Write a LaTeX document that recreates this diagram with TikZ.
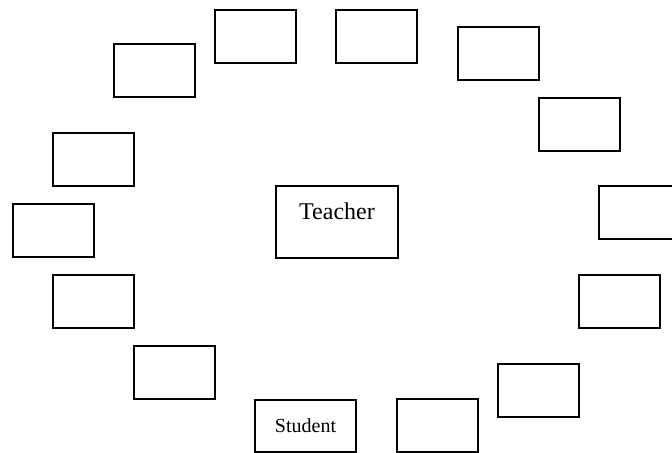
\documentclass[tikz,border=0pt]{standalone}
\usepackage{fontspec}
\setmainfont{Liberation Serif}
\usepackage{tikz}

\tikzset{
	seat/.style={draw, line width=1pt, anchor=north west, inner sep=0pt,
		minimum width=40.5pt, minimum height=26.5pt},
	desk/.style={draw, line width=1pt, anchor=north west, inner sep=0pt,
		minimum width=61pt, text height=17pt, text depth=19pt, font=\fontsize{12}{14}\selectfont}
}

\begin{document}
\begin{tikzpicture}[x=0.5pt, y=-0.5pt]
	\clip (0,0) rectangle (672,453);
	\node [desk] (teacher) at (275,185) {Teacher};
	\node [seat] (s1) at (113,43) {};
	\node [seat] (s2) at (214,9) {};
	\node [seat] (s3) at (335,9) {};
	\node [seat] (s4) at (457,26) {};
	\node [seat] (s5) at (538,97) {};
	\node [seat] (s6) at (52,132) {};
	\node [seat] (s7) at (12,203) {};
	\node [seat] (s8) at (598,185) {};
	\node [seat] (s9) at (52,274) {};
	\node [seat] (s10) at (578,274) {};
	\node [seat] (s11) at (133,345) {};
	\node [seat] (s12) at (497,363) {};
	\node [seat, minimum width=50.5pt, minimum height=26pt, font=\fontsize{10}{12}\selectfont] (student) at (254,399) {Student};
	\node [seat] (s14) at (396,398) {};
\end{tikzpicture}
\end{document}
